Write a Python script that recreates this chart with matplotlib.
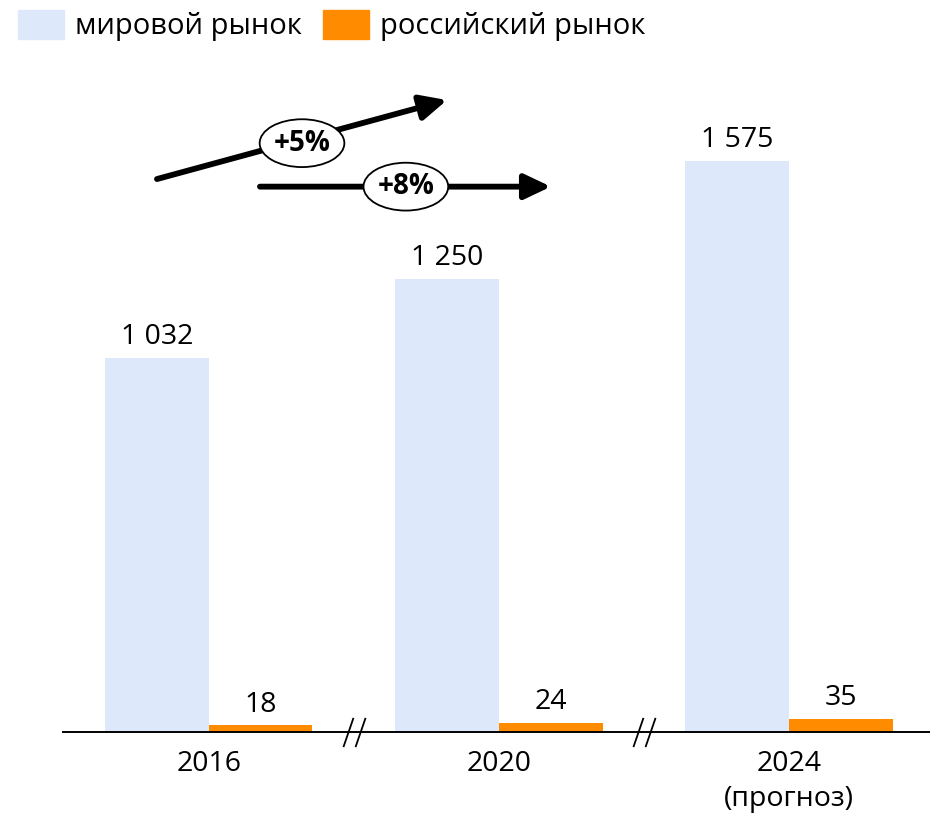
import matplotlib
matplotlib.use("Agg")
import matplotlib.pyplot as plt
from matplotlib.patches import Ellipse, Patch
from matplotlib.path import Path
import numpy as np

plt.rcParams["font.family"] = ["Open Sans", "DejaVu Sans"]

years = ["2016", "2020", "2024\n(прогноз)"]
world = [1032, 1250, 1575]
russia = [18, 24, 35]
series_names = ["мировой рынок", "российский рынок"]
growth_labels = ["+5%", "+8%"]

WORLD_COLOR = "#dde8fb"
RUSSIA_COLOR = "#ff8c00"


def fmt(v):
    return f"{v:,}".replace(",", " ")


fig = plt.figure(figsize=(9.3, 8.18), dpi=100)
ax = fig.add_axes([63 / 930, 86 / 818, 867 / 930, 670 / 818])

x = np.arange(len(years))
w = 0.357

b1 = ax.bar(x - w / 2, world, width=w, color=WORLD_COLOR, zorder=2)
b2 = ax.bar(x + w / 2, russia, width=w, color=RUSSIA_COLOR, zorder=2)
ax.bar_label(b1, labels=[fmt(v) for v in world], padding=5, fontsize=20.5)
ax.bar_label(b2, labels=[fmt(v) for v in russia], padding=5, fontsize=20.5)

ax.set_xlim(-0.503, 2.486)
ax.set_ylim(0, 1849)

for s in ("top", "right", "left"):
    ax.spines[s].set_visible(False)
ax.spines["bottom"].set_linewidth(1.4)
ax.spines["bottom"].set_zorder(3)
ax.set_yticks([])
ax.set_xticks(x)
ax.set_xticklabels(years, fontsize=20.5, linespacing=1.35)
ax.tick_params(axis="x", length=0, pad=13)

# axis break marks between the groups
brk = Path(
    [(-0.76, -1), (-0.07, 1), (0.07, -1), (0.76, 1)],
    [Path.MOVETO, Path.LINETO, Path.MOVETO, Path.LINETO],
)
ax.plot(x[:-1] + 0.5, [0, 0], ls="none", marker=brk, markersize=21,
        markeredgecolor="black", markeredgewidth=1.3, clip_on=False, zorder=4)

# growth arrows with CAGR ellipses
arrows = [((-0.179, 1526), (0.821, 1744), (0.321, 1625)),
          ((0.176, 1505), (1.179, 1505), (0.679, 1505))]
for (start, end, mid), lab in zip(arrows, growth_labels):
    ax.annotate("", xy=end, xytext=start,
                arrowprops=dict(arrowstyle="-|>,head_length=0.8,head_width=0.38",
                                mutation_scale=20, lw=4.2, color="black",
                                shrinkA=0, shrinkB=0),
                annotation_clip=False, zorder=5)
    ax.add_patch(Ellipse(mid, width=0.292, height=132, facecolor="white",
                         edgecolor="black", lw=1.3, zorder=6, clip_on=False))
    ax.text(mid[0], mid[1], lab, ha="center", va="center", fontsize=20,
            fontweight="bold", zorder=7)

handles = [Patch(color=WORLD_COLOR), Patch(color=RUSSIA_COLOR)]
fig.legend(handles, series_names, loc="upper left",
           bbox_to_anchor=(18 / 930, 1 - 10 / 818), ncol=2, frameon=False,
           fontsize=21, handlelength=1.58, handleheight=1.13,
           handletextpad=0.38, columnspacing=0.72, borderpad=0,
           borderaxespad=0)

fig.savefig("out.png", dpi=100)
